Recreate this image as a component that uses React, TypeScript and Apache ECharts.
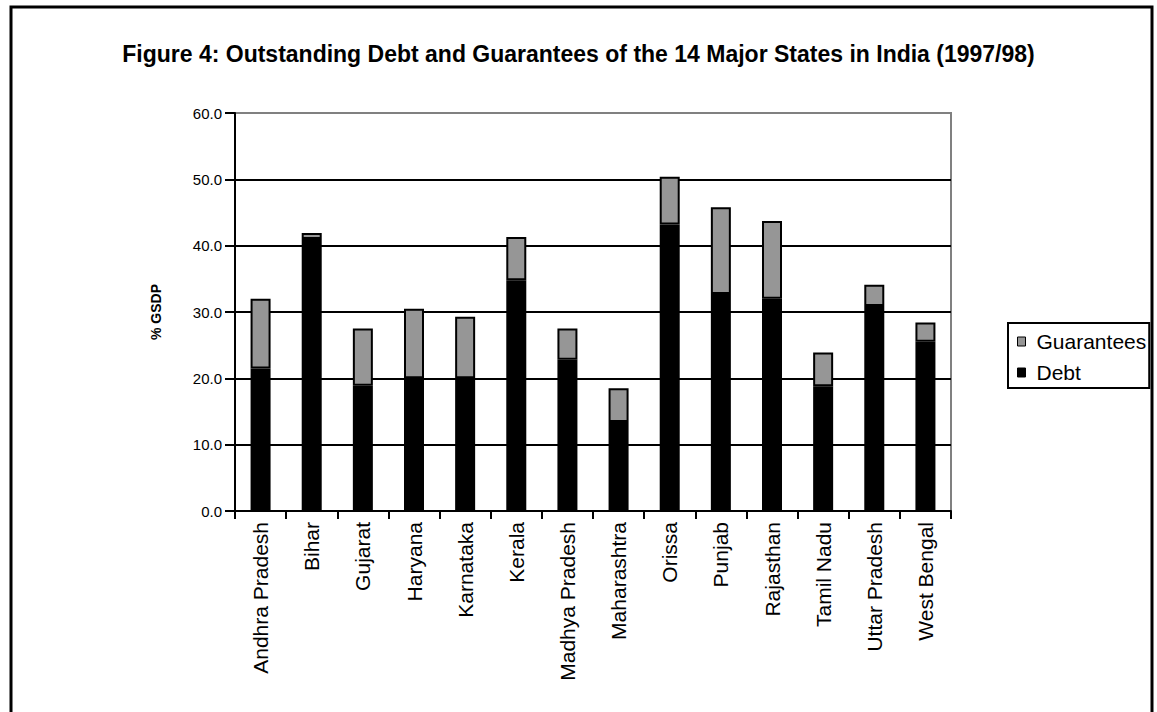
import React, { useEffect, useRef } from "react";
import * as echarts from "echarts";

const categories = [
  "Andhra Pradesh", "Bihar", "Gujarat", "Haryana", "Karnataka", "Kerala",
  "Madhya Pradesh", "Maharashtra", "Orissa", "Punjab", "Rajasthan",
  "Tamil Nadu", "Uttar Pradesh", "West Bengal",
];
const debt = [21.5, 41.0, 18.9, 20.0, 20.0, 34.8, 22.8, 13.4, 43.2, 32.7, 32.0, 18.8, 30.9, 25.5];
const guarantees = [10.5, 0.9, 8.6, 10.5, 9.3, 6.5, 4.7, 5.1, 7.2, 13.1, 11.7, 5.1, 3.2, 2.9];
const titleText = "Figure 4: Outstanding Debt and Guarantees of the 14 Major States in India (1997/98)";

export default function App() {
  const ref = useRef<HTMLDivElement>(null);
  useEffect(() => {
    if (!ref.current) return;
    const chart = echarts.init(ref.current, null, { renderer: "svg" });
    const font = "'Liberation Sans', Arial, sans-serif";
    chart.setOption({
      animation: false,
      backgroundColor: "#fff",
      title: {
        text: titleText,
        left: "center",
        top: 37,
        textStyle: {
          fontFamily: font,
          fontWeight: "bold",
          fontSize: 23,
          color: "#000",
        },
      },
      graphic: [
        {
          type: "rect",
          shape: { x: 11, y: 7, width: 1141, height: 720 },
          style: { fill: "none", stroke: "#000", lineWidth: 3 },
          silent: true,
        },
      ],
      legend: {
        orient: "vertical",
        left: 1008,
        top: 323,
        data: ["Guarantees", "Debt"],
        icon: "rect",
        itemWidth: 8,
        itemHeight: 9,
        itemGap: 10,
        padding: [8, 3, 5, 9],
        borderColor: "#000",
        borderWidth: 2,
        backgroundColor: "#fff",
        textStyle: { fontFamily: font, fontSize: 21, color: "#000", padding: [0, 0, 0, 6] },
        itemStyle: { borderColor: "#000", borderWidth: 1 },
      },
      grid: {
        left: 235,
        right: 206,
        top: 113,
        bottom: 201,
        show: true,
        borderColor: "#808080",
        borderWidth: 2,
        backgroundColor: "transparent",
      },
      xAxis: {
        type: "category",
        data: categories,
        axisLine: { show: true, lineStyle: { color: "#000", width: 2 } },
        axisTick: { show: true, alignWithLabel: false, length: 8, lineStyle: { color: "#000", width: 2 } },
        axisLabel: {
          rotate: 90,
          interval: 0,
          margin: 11,
          fontFamily: font,
          fontSize: 21,
          color: "#000",
        },
      },
      yAxis: {
        type: "value",
        min: 0,
        max: 60,
        interval: 10,
        name: "% GSDP",
        nameLocation: "middle",
        nameGap: 72,
        nameRotate: 90,
        nameTextStyle: { fontFamily: font, fontSize: 14, fontWeight: "bold", color: "#000" },
        axisLine: { show: true, lineStyle: { color: "#000", width: 2 } },
        axisTick: { show: true, length: 10, lineStyle: { color: "#000", width: 2 } },
        axisLabel: {
          margin: 13,
          fontFamily: font,
          fontSize: 15,
          color: "#000",
          formatter: (v: number) => v.toFixed(1),
        },
        splitLine: {
          show: true,
          lineStyle: { color: ["#000", "#000", "#000", "#000", "#000", "#000", "#808080"], width: 2 },
        },
      },
      series: [
        {
          name: "Debt",
          type: "bar",
          stack: "total",
          data: debt,
          barWidth: 20,
          itemStyle: { color: "#000", borderColor: "#000", borderWidth: 2 },
        },
        {
          name: "Guarantees",
          type: "bar",
          stack: "total",
          data: guarantees,
          barWidth: 20,
          itemStyle: { color: "#969696", borderColor: "#000", borderWidth: 2 },
        },
      ],
    });
    return () => chart.dispose();
  }, []);
  return (
    <div
      ref={ref}
      style={{ position: "absolute", left: 0, top: 0, width: 1157, height: 712 }}
    />
  );
}
